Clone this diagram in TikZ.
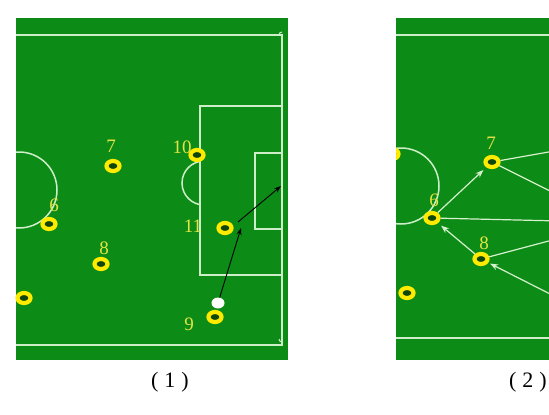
\documentclass[tikz,border=0pt]{standalone}
\usepackage{fontspec}
\setmainfont{Liberation Serif}
\usetikzlibrary{shapes.geometric,arrows.meta}
\definecolor{pitch}{RGB}{12,140,22}
\definecolor{hole}{RGB}{14,70,12}
\definecolor{linecol}{RGB}{205,238,200}
\definecolor{ringyel}{RGB}{255,235,0}
\definecolor{numyel}{RGB}{228,228,70}
\definecolor{passcol}{RGB}{215,240,205}
\tikzset{
  ring/.style={ellipse,draw=ringyel,line width=4.2pt,fill=hole,minimum width=13pt,minimum height=10pt,inner sep=0pt},
  num/.style={text=numyel,inner sep=0pt,font=\fontsize{19}{19}\selectfont},
  captext/.style={inner sep=0pt,font=\fontsize{22}{22}\selectfont},
  field/.style={draw=linecol,line width=1.5pt},
  blackpass/.style={draw=black,line width=0.9pt,-{Stealth[length=7pt,width=5pt]}},
  whitepass/.style={draw=passcol,line width=1.2pt},
  whitearrow/.style={whitepass,-{Stealth[length=8pt,width=6pt]}},
  ball/.style={ellipse,fill=white,minimum width=13pt,minimum height=11pt,inner sep=0pt}
}
\begin{document}
\begin{tikzpicture}[x=1pt,y=-1pt]
\useasboundingbox (0,0) rectangle (549,415);
\fill[white] (0,0) rectangle (549,415);
% ---------- panel 1 ----------
\fill[pitch] (16,18) rectangle (288,360);
\begin{scope}
  \clip (16,18) rectangle (288,360);
  \draw[field] (16,35) -- (282,35) -- (282,345) -- (16,345);
  \draw[field,line width=1pt] (279,35) arc[start angle=180,end angle=270,radius=3];
  \draw[field,line width=1pt] (282,342) arc[start angle=90,end angle=180,radius=3];
  \draw[field] (282,106) -- (200,106) -- (200,275) -- (282,275);
  \draw[field] (282,153) -- (255,153) -- (255,229) -- (282,229);
  \draw[field] (19,190) circle[radius=38];
  \begin{scope}
    \clip (0,0) rectangle (200,415);
    \draw[field] (204,183) circle[radius=22];
  \end{scope}
\end{scope}
\node[ring] (p7) at (113,166) {};
\node[ring] (p10) at (197,155) {};
\node[ring] (p6) at (49,224) {};
\node[ring] (p8) at (101,264) {};
\node[ring] (p5) at (24,298) {};
\node[ring] (p11) at (225,228) {};
\node[ring] (p9) at (215,317) {};
\node[ball] (b) at (218,303) {};
\node[num] (l7) at (111,146) {7};
\node[num] (l10) at (182,147) {10};
\node[num] (l6) at (54,205) {6};
\node[num] (l8) at (104,248) {8};
\node[num] (l11) at (193,226) {11};
\node[num] (l9) at (189,324) {9};
\coordinate (k1) at (241,228);
\coordinate (k2) at (238,222);
\coordinate (k3) at (281,186);
\draw[blackpass] (b) -- (k1);
\draw[blackpass] (k2) -- (k3);
\node[captext] (c1) at (170,382) {(\hspace{6pt}1\hspace{6pt})};
% ---------- panel 2 ----------
\fill[pitch] (396,18) rectangle (549,360);
\begin{scope}
  \clip (396,18) rectangle (549,360);
  \draw[field] (396,35) -- (549,35);
  \draw[field] (396,338) -- (549,338);
  \draw[field] (401,186) circle[radius=38];
  \node[ring] (q0) at (392,154) {};
  \node[ring] (q7) at (492,162) {};
  \node[ring] (q6) at (432,218) {};
  \node[ring] (q8) at (481,259) {};
  \node[ring] (q5) at (407,293) {};
  \coordinate (e1) at (560,150);
  \coordinate (e2) at (560,196);
  \coordinate (e3) at (560,221);
  \coordinate (e4) at (560,238);
  \coordinate (e5) at (560,299);
  \draw[whitepass] (q7) -- (e1);
  \draw[whitepass] (q7) -- (e2);
  \draw[whitepass] (q6) -- (e3);
  \draw[whitepass] (q8) -- (e4);
  \draw[whitearrow,shorten >=4pt] (q6) -- (q7);
  \draw[whitearrow,shorten >=4pt] (q8) -- (q6);
  \draw[whitearrow,shorten >=2pt] (e5) -- (q8);
\end{scope}
\node[num] (m7) at (491,143) {7};
\node[num] (m6) at (434,200) {6};
\node[num] (m8) at (484,243) {8};
\node[captext] (c2) at (528,382) {(\hspace{6pt}2\hspace{6pt})};
\end{tikzpicture}
\end{document}
